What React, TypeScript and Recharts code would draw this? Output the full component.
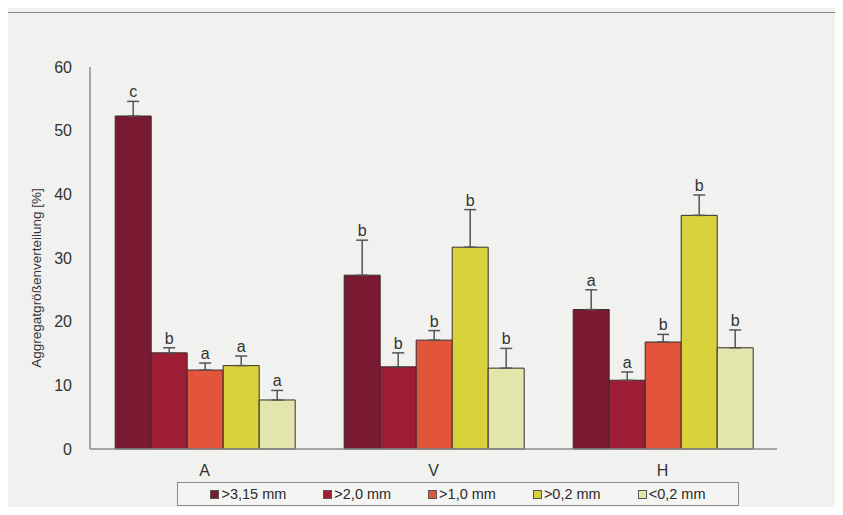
import React from 'react';
import { BarChart, Bar, XAxis, YAxis, ErrorBar, LabelList, Legend } from 'recharts';

// Bodenbearbeitung / Variante
const groups = ['A', 'V', 'H'];
const sizeClasses = ['>3,15 mm', '>2,0 mm', '>1,0 mm', '>0,2 mm', '<0,2 mm'];

// Mittelwerte [%]
const mean315 = [52.3, 27.3, 21.9];
const mean20 = [15.1, 12.9, 10.8];
const mean10 = [12.4, 17.1, 16.8];
const mean02 = [13.1, 31.7, 36.7];
const meanFine = [7.7, 12.7, 15.9];

// Standardabweichung (nur nach oben gezeichnet)
const sd315 = [2.3, 5.5, 3.1];
const sd20 = [0.8, 2.2, 1.3];
const sd10 = [1.1, 1.5, 1.2];
const sd02 = [1.5, 5.9, 3.2];
const sdFine = [1.5, 3.1, 2.8];

// Signifikanzbuchstaben
const let315 = ['c', 'b', 'a'];
const let20 = ['b', 'b', 'a'];
const let10 = ['a', 'b', 'b'];
const let02 = ['a', 'b', 'b'];
const letFine = ['a', 'b', 'b'];

const yTicks = [0, 10, 20, 30, 40, 50, 60];

const means = [mean315, mean20, mean10, mean02, meanFine];
const sds = [sd315, sd20, sd10, sd02, sdFine];
const letters = [let315, let20, let10, let02, letFine];
const colors = ['#7a1a32', '#9c1d34', '#e2553b', '#d8d23c', '#e2e6ad'];

const data = groups.map((g, i) => {
  const row: Record<string, any> = { group: g };
  means.forEach((m, k) => {
    row['m' + k] = m[i];
    row['e' + k] = [0, sds[k][i]];
    row['s' + k] = sds[k][i];
    row['l' + k] = letters[k][i];
  });
  return row;
});

const font = '"Liberation Sans", Arial, sans-serif';

const LegendBox = () => (
  <div
    style={{
      border: '1.5px solid #8c8c8c',
      height: 22,
      display: 'flex',
      alignItems: 'center',
      justifyContent: 'space-around',
      padding: '0 14px',
      fontFamily: font,
      fontSize: 14.5,
      color: '#2a2a2a',
      background: '#f4f4f2',
    }}
  >
    {sizeClasses.map((name, k) => (
      <span key={name} style={{ display: 'flex', alignItems: 'center' }}>
        <span
          style={{
            width: 7,
            height: 7,
            background: colors[k],
            border: '1px solid #555',
            marginRight: 2,
          }}
        />
        {name}
      </span>
    ))}
  </div>
);

export default function App() {
  return (
    <div style={{ margin: -8, width: 843, height: 515, position: 'relative', background: '#f1f1ef', overflow: 'hidden' }}>
      <div
        style={{
          position: 'absolute',
          left: 7,
          top: 12,
          width: 1000,
          height: 600,
          border: '1.5px solid #8a8a8a',
        }}
      />
      <BarChart
        width={843}
        height={515}
        data={data}
        margin={{ top: 67, right: 66, bottom: 36, left: 20 }}
        barGap={0}
        barCategoryGap="11%"
        style={{ position: 'absolute', left: 0, top: 0, fontFamily: font }}
      >
        <XAxis
          dataKey="group"
          height={30}
          axisLine={{ stroke: '#8a8a8a', strokeWidth: 1.5 }}
          tickLine={false}
          tick={{ fill: '#333', fontSize: 16 }}
          tickMargin={10}
        />
        <XAxis
          xAxisId="top"
          dataKey="group"
          orientation="top"
          height={0}
          tick={false}
          tickLine={false}
          axisLine={{ stroke: '#a0a0a0', strokeWidth: 1.2 }}
        />
        <YAxis
          domain={[0, 60]}
          ticks={yTicks}
          width={70}
          axisLine={{ stroke: '#8a8a8a', strokeWidth: 1.5 }}
          tickLine={false}
          tick={{ fill: '#333', fontSize: 16 }}
          tickMargin={12}
          label={{
            value: 'Aggregatgrößenverteilung [%]',
            angle: -90,
            position: 'insideLeft',
            dx: 11,
            dy: 20,
            style: { textAnchor: 'middle', fill: '#333', fontSize: 13.5 },
          }}
        />
        <YAxis
          yAxisId="right"
          orientation="right"
          domain={[0, 60]}
          width={0}
          tick={false}
          tickLine={false}
          axisLine={{ stroke: '#a0a0a0', strokeWidth: 1.2 }}
        />
        {sizeClasses.map((name, k) => (
          <Bar
            key={'m' + k}
            dataKey={'m' + k}
            name={name}
            stackId={'st' + k}
            fill={colors[k]}
            stroke="#3a2a2a"
            strokeWidth={1}
            isAnimationActive={false}
          >
            <ErrorBar dataKey={'e' + k} width={6} stroke="#555" strokeWidth={1.5} direction="y" />
          </Bar>
        ))}
        {sizeClasses.map((name, k) => (
          <Bar
            key={'s' + k}
            dataKey={'s' + k}
            stackId={'st' + k}
            fill="transparent"
            legendType="none"
            isAnimationActive={false}
          >
            <LabelList dataKey={'l' + k} position="top" offset={4} fill="#333" fontSize={16} />
          </Bar>
        ))}
        <Legend
          layout="horizontal"
          verticalAlign="middle"
          align="center"
          content={<LegendBox />}
          wrapperStyle={{ left: 177, top: 482, bottom: 'auto', width: 562 }}
        />
      </BarChart>
    </div>
  );
}
